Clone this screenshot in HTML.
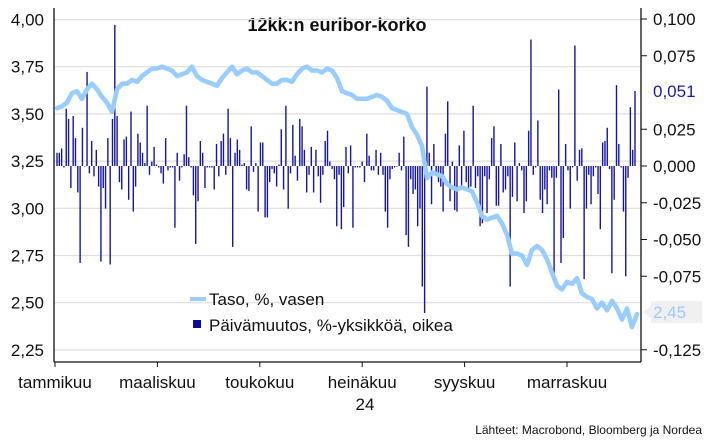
<!DOCTYPE html>
<html><head><meta charset="utf-8"><style>
body{margin:0;background:#fff;}
svg{display:block;font-family:"Liberation Sans",sans-serif;}
</style></head><body>
<svg id="chart" width="710" height="448" viewBox="0 0 710 448">
<text x="337" y="31" text-anchor="middle" font-size="18" font-weight="bold" fill="#111">12kk:n euribor-korko</text>
<g id="grid"></g><g id="bars"></g><g id="line"></g><g id="axes"></g>
<g>
<rect x="190" y="297" width="16" height="4" fill="#99ccff"/>
<text x="209" y="305" font-size="17" fill="#111">Taso, %, vasen</text>
<rect x="193" y="320" width="8" height="8" fill="#0a0a9a"/>
<text x="209" y="331" font-size="17" fill="#111">Päivämuutos, %-yksikköä, oikea</text>
</g>
<text x="365" y="410" text-anchor="middle" font-size="17" fill="#111">24</text>
<text x="702" y="434" text-anchor="end" font-size="12" fill="#111">Lähteet: Macrobond, Bloomberg ja Nordea</text>
</svg>
<script>
const leftTicks=[4.00,3.75,3.50,3.25,3.00,2.75,2.50,2.25];
const rightTicks=[0.100,0.075,0.025,0.000,-0.025,-0.050,-0.075,-0.125];
const months=["tammikuu","maaliskuu","toukokuu","heinäkuu","syyskuu","marraskuu"];
const lastLevel=2.45;
const lastChange=0.051;
const level=[3.53,3.54,3.56,3.61,3.62,3.58,3.63,3.66,3.63,3.59,3.56,3.51,3.63,3.66,3.66,3.68,3.67,3.70,3.72,3.74,3.74,3.75,3.74,3.73,3.70,3.71,3.72,3.75,3.70,3.68,3.67,3.66,3.65,3.69,3.72,3.75,3.71,3.73,3.74,3.72,3.72,3.70,3.68,3.66,3.66,3.68,3.68,3.67,3.71,3.74,3.75,3.73,3.73,3.72,3.74,3.73,3.69,3.62,3.61,3.60,3.58,3.58,3.58,3.59,3.60,3.59,3.57,3.53,3.52,3.51,3.50,3.43,3.39,3.33,3.16,3.19,3.18,3.17,3.13,3.11,3.10,3.11,3.10,3.09,3.03,2.96,2.94,2.95,2.96,2.92,2.86,2.76,2.76,2.75,2.70,2.78,2.80,2.78,2.73,2.66,2.59,2.57,2.61,2.60,2.63,2.55,2.53,2.52,2.47,2.50,2.46,2.51,2.47,2.41,2.47,2.37,2.44];
const change=[.009,.009,.012,-.001,.039,.032,-.015,.034,.019,-.018,-.066,.026,0,.064,-.005,.017,-.007,.011,-.014,-.065,-.015,-.029,.019,-.067,.032,.096,.034,-.011,-.016,.018,.020,-.023,.037,-.031,-.014,.022,.016,.009,.002,.041,-.006,.003,.013,.001,-.001,-.005,-.012,.019,-.003,-.001,-.001,-.042,.009,-.010,-.001,.008,.041,.006,-.001,-.020,-.053,-.024,.017,.009,
-.015,-.001,-.001,-.001,-.016,.015,-.007,.017,.022,-.006,.039,.019,-.055,.009,.018,.011,.001,.002,-.016,-.017,.027,-.004,.002,-.031,.016,.016,-.035,-.035,-.011,-.002,-.005,-.014,.001,.025,-.016,.041,-.029,-.005,.028,.007,-.010,.032,.027,.011,-.018,-.006,.013,-.018,.011,-.007,-.025,-.006,.017,.024,.003,-.002,-.009,-.041,-.006,-.043,-.028,.013,-.005,.014,
-.042,-.001,-.001,-.001,.003,-.011,.022,.007,-.003,-.003,.011,-.006,.009,-.006,-.031,-.042,-.009,-.002,-.001,0,.009,-.003,.020,-.047,-.055,-.009,-.019,-.016,-.041,-.029,-.082,-.100,.054,.009,-.026,.015,-.005,-.011,-.014,-.031,.022,.044,-.024,.003,-.030,-.031,.014,-.014,.024,-.011,-.017,-.014,.041,-.015,-.007,-.041,-.039,-.007,-.032,-.009,.019,.027,
-.027,-.027,.015,-.018,-.016,-.007,-.082,-.021,.016,-.024,.002,-.003,-.032,-.024,.024,.086,-.006,-.001,.031,-.023,-.032,-.016,-.026,-.003,-.008,-.078,-.008,.052,-.066,-.049,.015,-.003,-.029,-.001,.082,-.010,.011,.012,-.077,-.029,-.006,-.026,-.007,-.001,-.019,-.043,.016,.017,.026,-.002,-.073,-.023,.055,.015,-.001,-.031,-.075,-.008,.040,.011,.051];

const NS="http://www.w3.org/2000/svg";
const PL=54,PR=641,PT=8,PB=362;
const yL=v=>19.5+(4-v)*188.8;
const yR=v=>166-v*1470;
const xLine=i=>57+i*(637-57)/(level.length-1);
const xBar=i=>57+i*(635-57)/(change.length-1);
const xMonth=i=>55+i*102.4;
function mk(tag,attrs,parent){const e=document.createElementNS(NS,tag);for(const k in attrs)e.setAttribute(k,attrs[k]);parent.appendChild(e);return e;}
const fmt=(v,d)=>v.toFixed(d).replace('.',',');
const grid=document.getElementById('grid'),bars=document.getElementById('bars'),line=document.getElementById('line'),axes=document.getElementById('axes');
leftTicks.forEach(v=>{
  const g=mk('line',{x1:PL,x2:PR,y1:yL(v),y2:yL(v),stroke:'#dedede','stroke-width':1.2},grid);
  
  
  const t=mk('text',{x:44,y:yL(v)+6,'text-anchor':'end','font-size':17,fill:'#111'},axes);
  t.textContent=fmt(v,2);
  
  
});
rightTicks.forEach(v=>{
  const tk=mk('line',{x1:PR,x2:PR+6,y1:yR(v),y2:yR(v),stroke:'#111','stroke-width':1},axes);
  
  
  const t=mk('text',{x:653,y:yR(v)+6,'font-size':17,fill:'#111'},axes);
  t.textContent=fmt(v,3);
  
  
});
change.forEach((v,i)=>{
  const y0=yR(0),y1=yR(v);
  const r=mk('rect',{x:xBar(i)-0.7,y:Math.min(y0,y1),width:1.4,height:Math.max(0.6,Math.abs(y1-y0)),fill:'#1515a6'},bars);
  
  
});
const p=mk('path',{d:level.map((v,i)=>(i?'L':'M')+xLine(i).toFixed(1)+','+yL(v).toFixed(1)).join(''),fill:'none',stroke:'#99ccff','stroke-width':4.6,'stroke-linejoin':'round','stroke-linecap':'round'},line);


[[PL,PT,PL,PB],[PR,PT,PR,PB],[PL,PB,PR,PB]].forEach(a=>{
  const l=mk('line',{x1:a[0],y1:a[1],x2:a[2],y2:a[3],stroke:'#111','stroke-width':1.3},axes);
  
  
});
months.forEach((m,i)=>{
  const x=xMonth(i);
  const tk=mk('line',{x1:x,x2:x,y1:PB,y2:PB+5,stroke:'#111','stroke-width':1},axes);
  
  
  const t=mk('text',{x:x,y:388,'text-anchor':'middle','font-size':17,fill:'#111'},axes);
  t.textContent=m;
  
  
});
const cl=mk('text',{x:653,y:yR(lastChange)+6,'font-size':17,fill:'#1a1aaa'},axes);
cl.textContent=fmt(lastChange,3);


const ly=yL(lastLevel);
const bx=mk('path',{d:`M643,${ly} L651,${ly-6} L651,${ly-11} L702,${ly-11} L702,${ly+11} L651,${ly+11} L651,${ly+6} Z`,fill:'#f0f0f0'},axes);


const ll=mk('text',{x:653,y:ly+6,'font-size':17,fill:'#99ccff'},axes);
ll.textContent=fmt(lastLevel,2);


</script>
</body></html>
